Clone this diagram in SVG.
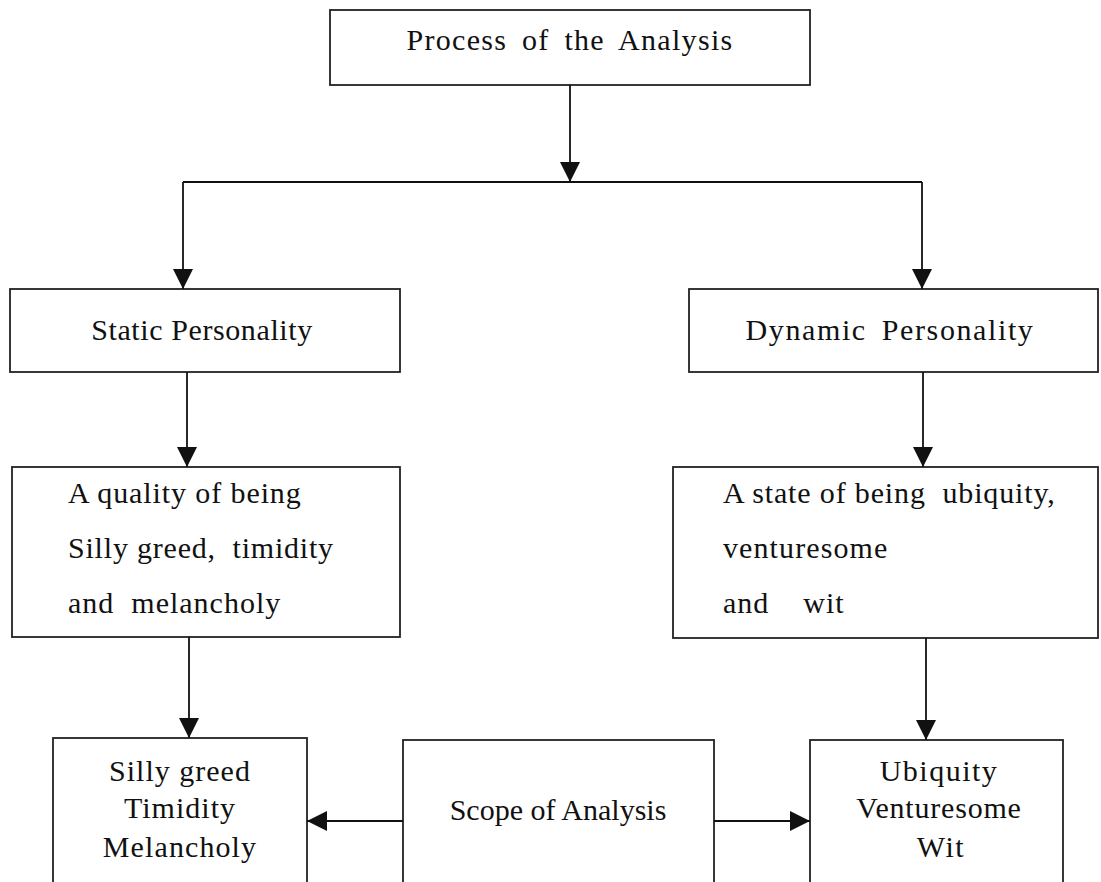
<svg xmlns="http://www.w3.org/2000/svg" width="1101" height="882" viewBox="0 0 1101 882">
<defs>
<marker id="arr" markerWidth="20" markerHeight="20" refX="10" refY="5" orient="auto" markerUnits="userSpaceOnUse" viewBox="0 0 10 10">
<path d="M0,0 L10,5 L0,10 z" fill="#111"/>
</marker>
<style>
.box{fill:#fff;stroke:#222;stroke-width:1.8}
.t{font-family:"Liberation Serif","Times New Roman",serif;font-size:30px;fill:#111}
.c{text-anchor:middle}
.ln{fill:none;stroke:#111;stroke-width:1.8}
.a{marker-end:url(#arr)}
</style>
</defs>
<rect width="1101" height="882" fill="#fff"/>
<g id="process">
<rect class="box" x="330" y="10" width="480" height="75"/>
<text class="t c" x="570" y="50" letter-spacing="1.3" word-spacing="6">Process of the Analysis</text>
</g>
<g id="static">
<rect class="box" x="10" y="289" width="390" height="83"/>
<text class="t c" x="202" y="340" letter-spacing="0.6">Static Personality</text>
</g>
<g id="dynamic">
<rect class="box" x="689" y="289" width="409" height="83"/>
<text class="t c" x="890" y="340" letter-spacing="1.6" word-spacing="6">Dynamic Personality</text>
</g>
<g id="quality">
<rect class="box" x="12" y="467" width="388" height="170"/>
<text class="t" x="68" y="503" letter-spacing="0.9">A quality of being</text>
<text class="t" x="68" y="558" letter-spacing="0.8" xml:space="preserve">Silly greed,  timidity</text>
<text class="t" x="68" y="613" letter-spacing="1" xml:space="preserve">and  melancholy</text>
</g>
<g id="state">
<rect class="box" x="673" y="467" width="425" height="171"/>
<text class="t" x="723" y="503" letter-spacing="0.85" xml:space="preserve">A state of being  ubiquity,</text>
<text class="t" x="723" y="558" letter-spacing="1.1">venturesome</text>
<text class="t" x="723" y="613" letter-spacing="1" xml:space="preserve">and    wit</text>
</g>
<g id="silly">
<rect class="box" x="53" y="738" width="254" height="160"/>
<text class="t c" x="180" y="781" letter-spacing="1">Silly greed</text>
<text class="t c" x="180" y="818" letter-spacing="1">Timidity</text>
<text class="t c" x="180" y="857" letter-spacing="1.1">Melancholy</text>
</g>
<g id="scope">
<rect class="box" x="403" y="740" width="311" height="160"/>
<text class="t c" x="558" y="820">Scope of Analysis</text>
</g>
<g id="ubiquity">
<rect class="box" x="810" y="740" width="253" height="160"/>
<text class="t c" x="939" y="781" letter-spacing="1.5">Ubiquity</text>
<text class="t c" x="939" y="818" letter-spacing="0.8">Venturesome</text>
<text class="t c" x="941" y="857" letter-spacing="1.5">Wit</text>
</g>
<g id="connectors">
<line class="ln a" x1="570" y1="85" x2="570" y2="182"/>
<polyline class="ln" points="183,182 922,182"/>
<line class="ln a" x1="183" y1="182" x2="183" y2="289"/>
<line class="ln a" x1="922" y1="182" x2="922" y2="289"/>
<line class="ln a" x1="187" y1="372" x2="187" y2="467"/>
<line class="ln a" x1="923" y1="372" x2="923" y2="467"/>
<line class="ln a" x1="189" y1="637" x2="189" y2="738"/>
<line class="ln a" x1="926" y1="638" x2="926" y2="740"/>
<line class="ln a" x1="403" y1="821" x2="307" y2="821"/>
<line class="ln a" x1="714" y1="821" x2="810" y2="821"/>
</g>
</svg>
